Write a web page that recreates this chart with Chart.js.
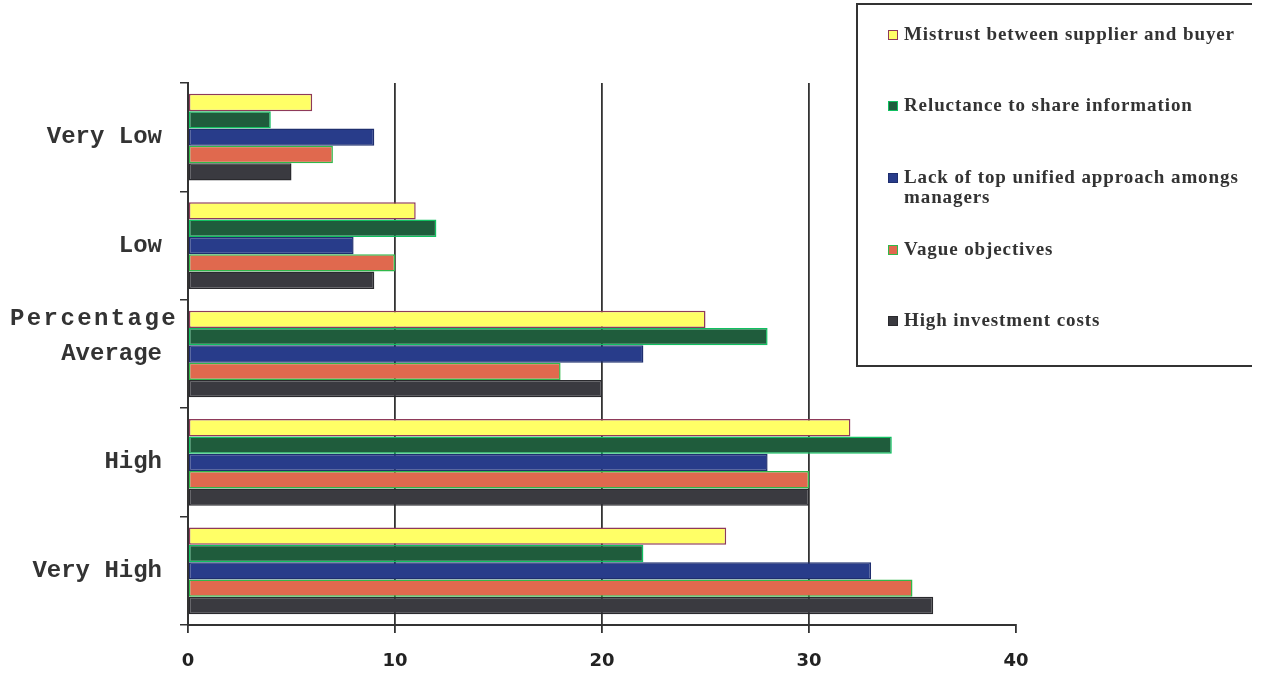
<!DOCTYPE html>
<html>
<head>
<meta charset="utf-8">
<script src="https://cdn.jsdelivr.net/npm/chart.js@4.4.1/dist/chart.umd.min.js"></script>
<style>
  body { margin:0; background:#fff; }
  #wrap { position:relative; width:1262px; height:673px; overflow:hidden; }
  #axisTitle { position:absolute; left:10px; top:305px; font:bold 24px "Liberation Mono", monospace; letter-spacing:2.4px; color:#333; }
  #legend { position:absolute; left:856px; top:3px; width:394px; height:360px; border-top:2px solid #333; border-left:2px solid #333; border-bottom:2px solid #333; font:bold 19px "Liberation Serif", serif; color:#333; }
  .item { position:absolute; left:30px; width:370px; line-height:20px; }
  .box { position:absolute; left:0; top:6px; width:8px; height:8px; border:1px solid; }
  .txt { margin-left:16px; letter-spacing:0.9px; }
</style>
</head>
<body>
<div id="wrap">
  <canvas id="c" width="1262" height="673"></canvas>
  <div id="axisTitle">Percentage</div>
  <div id="legend"></div>
</div>
<script>
// categories (top to bottom)
var levels = ['Very Low', 'Low', 'Average', 'High', 'Very High'];

// series values, one per barrier
var mistrust    = [6, 11, 25, 32, 26];
var reluctance  = [4, 12, 28, 34, 22];
var lackUnified = [9, 8, 22, 28, 33];
var vague       = [7, 10, 18, 30, 35];
var investment  = [5, 9, 20, 30, 36];

var xTicks = [0, 10, 20, 30, 40];

var seriesNames = ['Mistrust between supplier and buyer', 'Reluctance to share information',
  'Lack of top unified approach amongs managers', 'Vague objectives', 'High investment costs'];
var seriesData = [mistrust, reluctance, lackUnified, vague, investment];
var fills   = ['#FFFF66', '#1F5C3C', '#283C8A', '#E0694E', '#3A3A40'];
var borders = ['#8E3A5A', '#10C060', '#1E2E6E', '#30B84A', '#2A2A2E'];
var legendTop = [19, 90, 162, 234, 305];

var datasets = [];
for (var i = 0; i < seriesData.length; i++) {
  datasets.push({
    label: seriesNames[i],
    data: seriesData[i],
    backgroundColor: fills[i],
    borderColor: borders[i],
    borderWidth: 1.5,
    borderSkipped: false,
    barPercentage: 1,
    categoryPercentage: 0.8
  });
}

// html legend
var lg = document.getElementById('legend');
for (var i = 0; i < seriesNames.length; i++) {
  var d = document.createElement('div');
  d.className = 'item';
  d.style.top = legendTop[i] + 'px';
  var txt = seriesNames[i];
  if (i == 2) txt = 'Lack of top unified approach amongs<br>managers';
  d.innerHTML = '<span class="box" style="background:' + fills[i] + ';border-color:' + borders[i] + '"></span><div class="txt">' + txt + '</div>';
  lg.appendChild(d);
}

var config = {
  type: 'bar',
  data: { labels: levels, datasets: datasets },
  options: {
    indexAxis: 'y',
    responsive: false,
    animation: false,
    layout: { padding: { left: 0, right: 246, top: 83, bottom: 0 } },
    plugins: { legend: { display: false }, tooltip: { enabled: false } },
    scales: {
      x: {
        min: 0, max: 40,
        afterBuildTicks: function(s) { s.ticks = xTicks.map(function(v) { return { value: v }; }); },
        afterFit: function(s) { s.height = 48; },
        border: { display: true, color: '#333', width: 2 },
        grid: {
          color: function(ctx) { return (ctx.tick && ctx.tick.value === 40) ? 'rgba(0,0,0,0)' : '#333'; },
          tickColor: '#333',
          lineWidth: 1.8,
          tickLength: 8
        },
        ticks: { color: '#222', padding: 18, font: { family: 'DejaVu Sans', size: 18, weight: 'bold' } }
      },
      y: {
        afterFit: function(s) { s.width = 188; },
        border: { display: true, color: '#333', width: 2 },
        grid: { drawOnChartArea: false, color: '#333', lineWidth: 1.5, tickLength: 8 },
        ticks: { color: '#333', padding: 18, font: { family: 'Liberation Mono', size: 24, weight: 'bold' } }
      }
    }
  }
};

window.onload = function() {
  var ctx = document.getElementById('c').getContext('2d');
  window.myBar = new Chart(ctx, config);
};
</script>
</body>
</html>
